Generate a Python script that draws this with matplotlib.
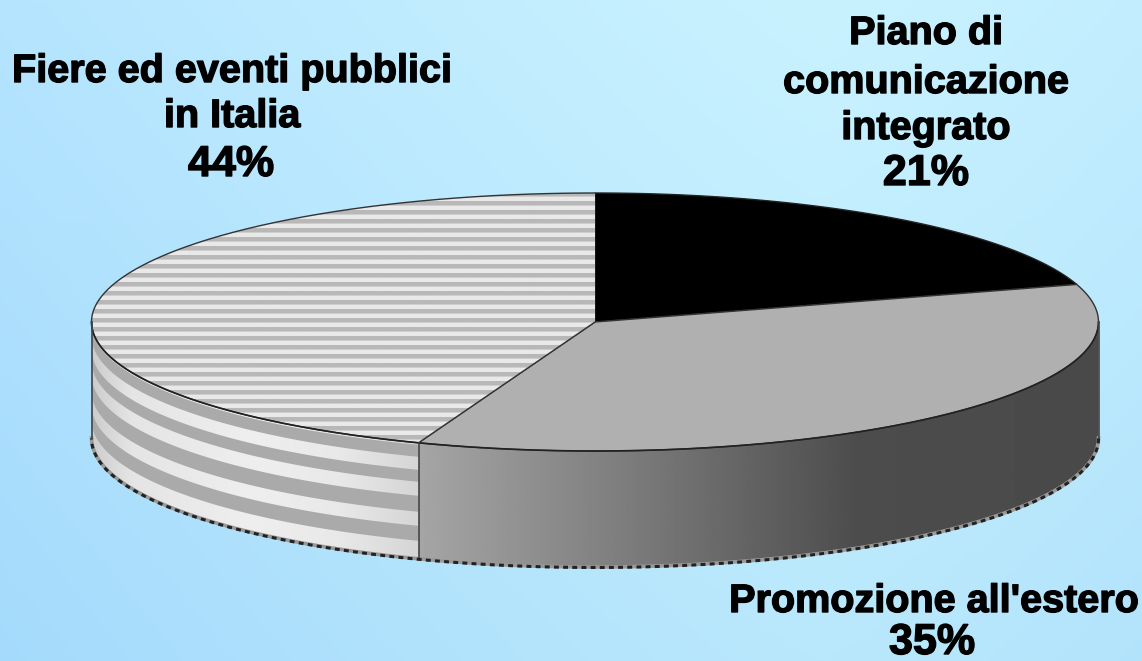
import numpy as np
import matplotlib
matplotlib.use('Agg')
import matplotlib.pyplot as plt
import matplotlib.patheffects as pe
from matplotlib.patches import Polygon

categories = ['Piano di\ncomunicazione\nintegrato', "Promozione all'estero", 'Fiere ed eventi pubblici\nin Italia']
# slice sizes as drawn; the printed labels are rounded
shares = [20.3, 35.4, 44.3]
percent_labels = ['21%', '35%', '44%']

plt.rcParams['font.family'] = ['Liberation Sans', 'DejaVu Sans']

W, H = 1142, 661
cx, cy = 595, 322
a, b = 503.5, 129
depth = 116

fig = plt.figure(figsize=(W / 100, H / 100), dpi=100)
ax = fig.add_axes([0, 0, 1, 1])
ax.set_xlim(0, W)
ax.set_ylim(H, 0)
ax.axis('off')


def rim(start, stop, n=300):
    # angles run clockwise from the top of the pie
    t = np.linspace(start, stop, n)
    return cx + a * np.sin(t), cy - b * np.cos(t)


def gradient_x(stops, extent, zorder, clip):
    xs = np.linspace(extent[0], extent[1], 500)
    vals = np.interp(xs, [s[0] for s in stops], [s[1] for s in stops])
    im = ax.imshow(vals[None, :], cmap='gray', vmin=0, vmax=255, extent=extent,
                   aspect='auto', zorder=zorder, interpolation='bilinear')
    im.set_clip_path(clip)
    return im


# background
yy, xx = np.mgrid[0:1:200j, 0:1:300j]
d = np.abs(xx - 0.72) ** 1.2
r = 201 - 30 * d - 16 * yy
g = 242 - 20 * d - 10 * yy
bl = 255 - 3 * yy
bg = np.dstack([r, g, bl]).clip(0, 255) / 255
ax.imshow(bg, extent=[0, W, H, 0], aspect='auto', zorder=0, interpolation='bilinear')
ax.set_xlim(0, W)
ax.set_ylim(H, 0)

fractions = np.cumsum([0] + shares) / sum(shares)
angles = fractions * 2 * np.pi

# side walls, only the part of the rim facing the viewer
front_start = np.pi / 2
front_end = 3 * np.pi / 2

# promozione wall
x1, y1 = rim(front_start, angles[2])
wall = Polygon(np.r_[np.c_[x1, y1], np.c_[x1[::-1], y1[::-1] + depth]], closed=True,
               fc='none', ec='none', transform=ax.transData)
ax.add_patch(wall)
gradient_x([(420, 165), (600, 130), (860, 76), (1100, 74)], [x1.min(), x1.max(), cy + b + depth, cy], 2, wall)

# fiere wall with its bands
x2, y2 = rim(angles[2], front_end)
wall2 = Polygon(np.r_[np.c_[x2, y2], np.c_[x2[::-1], y2[::-1] + depth]], closed=True,
                fc='none', ec='none', transform=ax.transData)
ax.add_patch(wall2)
gradient_x([(93, 205), (130, 228), (250, 238), (340, 232), (420, 212)],
           [x2.min(), x2.max(), cy + b + depth, cy], 2, wall2)
for top, bot in [(2, 14), (27, 39), (53, 69), (83, 98)]:
    ax.fill(np.r_[x2, x2[::-1]], np.r_[y2 + top, y2[::-1] + bot], color='#aaaaaa', lw=0, zorder=3)

# top faces
x, y = rim(angles[0], angles[1])
ax.add_patch(Polygon(np.r_[[[cx, cy]], np.c_[x, y]], closed=True, fc='black', ec='#222222', lw=1, zorder=4))

x, y = rim(angles[1], angles[2])
ax.add_patch(Polygon(np.r_[[[cx, cy]], np.c_[x, y]], closed=True, fc='#b0b0b0', ec='#333333', lw=1, zorder=4))

x, y = rim(angles[2], angles[3])
top3 = Polygon(np.r_[[[cx, cy]], np.c_[x, y]], closed=True, fc='#dddddd', ec='none', zorder=4)
ax.add_patch(top3)
rows = np.arange(0, 300) % 9
stripes = np.select([rows < 4, rows == 4], [184, 206], 233)[:, None].astype(float)
im = ax.imshow(stripes, cmap='gray', vmin=0, vmax=255, extent=[cx - a, cx, 192 + 300, 192],
               aspect='auto', zorder=4.5, interpolation='bilinear')
im.set_clip_path(top3)
ax.plot(x, y, color='#333333', lw=1, zorder=5)
ax.plot([cx, x[0]], [cy, y[0]], color='#333333', lw=1, zorder=5)

# outlines of the walls
xe, ye = rim(front_start, front_end)
ax.plot(xe, ye + depth, color='#999999', lw=2.6, zorder=5)
ax.plot(xe, ye + depth + 0.5, color='#222222', lw=2.2, ls=(0, (1.6, 1.4)), zorder=5.1)
ax.plot(xe, ye, color='#222222', lw=1.2, zorder=5)
for t in [front_start, angles[2], front_end]:
    xv, yv = rim(t, t, 1)
    ax.plot([xv[0], xv[0]], [yv[0], yv[0] + depth], color='#444444', lw=1.2, zorder=5)

ax.set_xlim(0, W)
ax.set_ylim(H, 0)

# labels, one text per line since the percent is set larger
heavy = [pe.withStroke(linewidth=1.0, foreground='black')]
name_kw = dict(ha='center', va='center', fontsize=28.5, fontweight='bold', color='black', zorder=6,
               path_effects=heavy)
pct_kw = dict(ha='center', va='center', fontsize=31, fontweight='bold', color='black', zorder=6,
              path_effects=heavy)

for line, ypos in zip(categories[0].split('\n'), [33, 82, 128]):
    ax.text(926, ypos, line, **name_kw)
ax.text(926, 174, percent_labels[0], **pct_kw)

ax.text(934, 601, categories[1], **name_kw)
ax.text(932, 643, percent_labels[1], **pct_kw)

for line, ypos in zip(categories[2].split('\n'), [71, 116]):
    ax.text(232, ypos, line, **name_kw)
ax.text(231, 165, percent_labels[2], **pct_kw)

fig.savefig('out.png', dpi=100)
